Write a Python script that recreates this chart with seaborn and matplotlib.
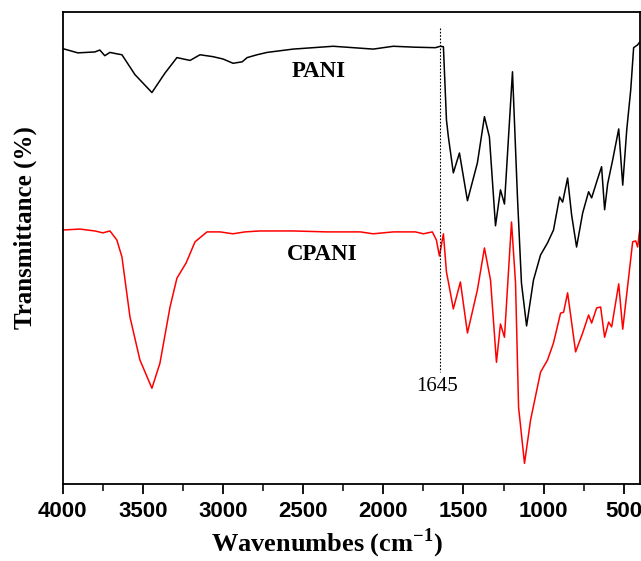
import matplotlib
matplotlib.use("Agg")
import matplotlib.pyplot as plt
from matplotlib.ticker import MultipleLocator
import pandas as pd
import seaborn as sns

# PANI spectrum (wavenumber cm-1, transmittance a.u.)
pani_wn = [4000, 3906, 3800, 3769, 3738, 3706, 3663, 3631, 3550, 3444, 3363, 3288,
           3206, 3144, 3063, 3000, 2938, 2881, 2850, 2788, 2725, 2563, 2313, 2063,
           1938, 1800, 1675, 1644, 1625, 1606, 1594, 1563, 1525, 1475, 1413, 1369,
           1338, 1300, 1269, 1244, 1194, 1163, 1138, 1106, 1063, 1019, 975, 938,
           900, 881, 850, 825, 794, 756, 719, 700, 663, 638, 619, 600, 569, 531,
           506, 481, 456, 438, 413, 400]
pani_t = [92.2, 91.3, 91.5, 91.9, 90.7, 91.4, 91.1, 90.9, 86.7, 82.9, 87.0, 90.3,
          89.7, 90.9, 90.5, 90.0, 89.1, 89.4, 90.3, 90.9, 91.4, 92.1, 92.7, 92.1,
          92.7, 92.5, 92.4, 92.7, 92.6, 77.1, 73.5, 65.9, 70.1, 60.0, 68.0, 77.8,
          73.5, 54.7, 62.3, 59.3, 87.3, 60.8, 42.6, 33.5, 43.2, 48.5, 51.1, 53.8,
          60.8, 59.7, 64.8, 57.0, 50.2, 57.4, 61.9, 60.6, 64.6, 67.2, 58.1, 63.6,
          68.6, 75.2, 63.3, 75.0, 83.5, 92.4, 93.0, 93.6]

# CPANI spectrum
cpani_wn = [4000, 3894, 3800, 3750, 3706, 3663, 3631, 3581, 3519, 3444, 3394, 3331,
            3288, 3231, 3175, 3100, 3019, 2938, 2863, 2769, 2563, 2350, 2144, 2063,
            1938, 1800, 1750, 1694, 1669, 1650, 1625, 1606, 1594, 1563, 1519, 1475,
            1413, 1369, 1331, 1294, 1269, 1244, 1200, 1175, 1156, 1119, 1081, 1019,
            975, 938, 894, 875, 850, 800, 756, 719, 700, 669, 644, 619, 594, 575,
            531, 506, 444, 425, 413, 400]
cpani_t = [53.8, 54.0, 53.6, 53.2, 53.6, 51.7, 48.1, 35.4, 26.3, 20.3, 25.6, 37.5,
           43.6, 46.8, 51.3, 53.4, 53.4, 53.0, 53.4, 53.6, 53.6, 53.4, 53.4, 53.0,
           53.4, 53.4, 53.0, 53.4, 51.7, 48.3, 53.0, 44.9, 42.8, 37.1, 42.8, 32.0,
           41.1, 50.0, 43.2, 25.8, 33.9, 31.1, 55.5, 42.6, 16.3, 4.4, 13.6, 23.7,
           26.3, 29.9, 36.2, 36.4, 40.5, 28.0, 32.0, 35.8, 34.1, 37.3, 37.5, 31.1,
           34.3, 33.3, 42.4, 32.8, 51.3, 51.5, 50.2, 53.8]

marker_wn = 1645
xticks = [4000, 3500, 3000, 2500, 2000, 1500, 1000, 500]

sns.set_theme(style="ticks")
plt.rcParams["font.family"] = ["Liberation Serif", "DejaVu Serif"]
plt.rcParams["mathtext.fontset"] = "custom"
plt.rcParams["mathtext.bf"] = "Liberation Serif:bold"
plt.rcParams["mathtext.rm"] = "Liberation Serif"
plt.rcParams["text.color"] = "black"
plt.rcParams["axes.labelcolor"] = "black"
plt.rcParams["xtick.color"] = "black"

pani = pd.DataFrame({"wn": pani_wn, "T": pani_t})
cpani = pd.DataFrame({"wn": cpani_wn, "T": cpani_t})

fig = plt.figure(figsize=(6.41, 5.61), dpi=100)
ax = fig.add_axes([0.098, 0.137, 0.9, 0.842])

sns.lineplot(data=pani, x="wn", y="T", sort=False, color="black", lw=1.1, ax=ax)
sns.lineplot(data=cpani, x="wn", y="T", sort=False, color="#ff0000", lw=1.1, ax=ax)

ax.plot([marker_wn, marker_wn], [96.6, 23.7], color="black", lw=0.8, ls=(0, (1.5, 1.5)))
ax.text(marker_wn + 20, 20.6, "1645", ha="center", va="center", fontsize=15)
ax.text(2400, 87.4, "PANI", ha="center", va="center", fontsize=16.5, fontweight="bold")
ax.text(2381, 48.7, "CPANI", ha="center", va="center", fontsize=16.5, fontweight="bold")

ax.set_xlim(4000, 400)
ax.set_ylim(0, 100)
ax.set_xticks(xticks)
ax.xaxis.set_minor_locator(MultipleLocator(250))
ax.set_yticks([])
ax.tick_params(axis="x", which="major", direction="out", length=7, width=1.3, pad=5)
ax.tick_params(axis="x", which="minor", direction="out", length=5, width=1.1)
for lab in ax.get_xticklabels():
    lab.set_fontfamily("Liberation Sans")
    lab.set_fontweight("bold")
    lab.set_fontsize(16)
for sp in ax.spines.values():
    sp.set_linewidth(1.3)
    sp.set_color("black")

ax.set_xlabel(r"Wavenumbes (cm$^{\mathbf{-1}}$)", fontsize=19, fontweight="bold")
ax.set_ylabel("Transmittance (%)", fontsize=18, fontweight="bold")
ax.xaxis.set_label_coords(0.458, -0.09)
ax.yaxis.set_label_coords(-0.045, 0.544)

fig.savefig("out.png", dpi=100)
